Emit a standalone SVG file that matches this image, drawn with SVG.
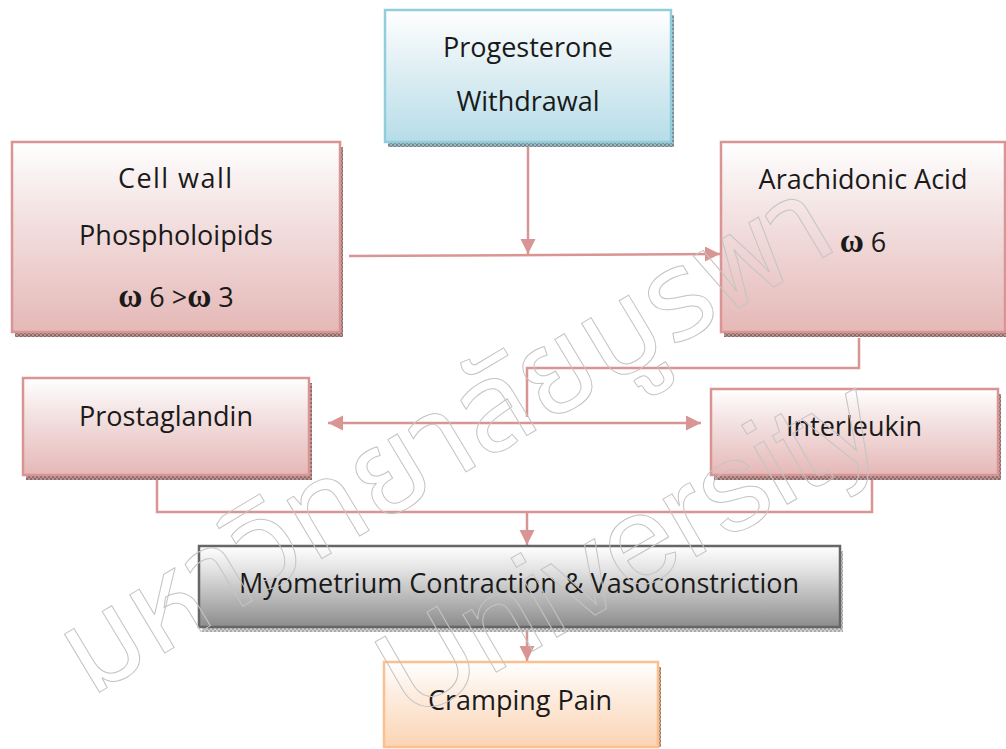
<svg xmlns="http://www.w3.org/2000/svg" width="1006" height="749" viewBox="0 0 1006 749">
  <style>
    .box { stroke-width: 2.5; }
    .pink { fill: url(#gPink); stroke: #d99594; }
    .blue { fill: url(#gBlue); stroke: #92cddc; }
    .gray { fill: url(#gGray); stroke: #666666; }
    .orange { fill: url(#gOrange); stroke: #fac08f; }
    .lbl { font-family: "Open Sans", "Liberation Sans", sans-serif; font-size: 27px; fill: #1a1a1a; text-anchor: middle; }
    .om { font-family: "Liberation Serif", serif; font-weight: bold; font-size: 33px; }
    .conn { fill: none; stroke: #d99594; stroke-width: 2.5; }
    .wm { fill: none; stroke: #c4c4c4; stroke-width: 1; }
  </style>
  <defs>
    <linearGradient id="gPink" x1="0" y1="0" x2="0" y2="1">
      <stop offset="0" stop-color="#ffffff"/>
      <stop offset="0.35" stop-color="#f4e4e4"/>
      <stop offset="1" stop-color="#e5b8b7"/>
    </linearGradient>
    <linearGradient id="gBlue" x1="0" y1="0" x2="0" y2="1">
      <stop offset="0" stop-color="#ffffff"/>
      <stop offset="0.35" stop-color="#e6f2f6"/>
      <stop offset="1" stop-color="#b6dde8"/>
    </linearGradient>
    <linearGradient id="gGray" x1="0" y1="0" x2="0" y2="1">
      <stop offset="0" stop-color="#ffffff"/>
      <stop offset="0.3" stop-color="#e2e2e2"/>
      <stop offset="1" stop-color="#8c8c8c"/>
    </linearGradient>
    <linearGradient id="gOrange" x1="0" y1="0" x2="0" y2="1">
      <stop offset="0" stop-color="#ffffff"/>
      <stop offset="0.35" stop-color="#fdeee2"/>
      <stop offset="1" stop-color="#fbd4b4"/>
    </linearGradient>
    <pattern id="hPink" width="4" height="4" patternUnits="userSpaceOnUse">
      <rect width="4" height="4" fill="#b89393"/>
      <rect width="2" height="2" fill="#8c6a6a"/>
      <rect x="2" y="2" width="2" height="2" fill="#8c6a6a"/>
    </pattern>
    <pattern id="hBlue" width="4" height="4" patternUnits="userSpaceOnUse">
      <rect width="4" height="4" fill="#9fb4bc"/>
      <rect width="2" height="2" fill="#6f8a94"/>
      <rect x="2" y="2" width="2" height="2" fill="#6f8a94"/>
    </pattern>
    <pattern id="hGray" width="4" height="4" patternUnits="userSpaceOnUse">
      <rect width="4" height="4" fill="#d2d2d2"/>
      <rect width="2" height="2" fill="#a8a8a8"/>
      <rect x="2" y="2" width="2" height="2" fill="#a8a8a8"/>
    </pattern>
    <pattern id="hOrange" width="4" height="4" patternUnits="userSpaceOnUse">
      <rect width="4" height="4" fill="#c9a88c"/>
      <rect width="2" height="2" fill="#9c7c62"/>
      <rect x="2" y="2" width="2" height="2" fill="#9c7c62"/>
    </pattern>
    <marker id="arr" markerUnits="userSpaceOnUse" markerWidth="16" markerHeight="16" refX="15" refY="7.5" orient="auto-start-reverse">
      <path d="M0,0 L15,7.5 L0,15 Z" fill="#d99594"/>
    </marker>
  </defs>

  <!-- connectors -->
  <g id="connectors">
    <line class="conn" x1="528" y1="147" x2="528" y2="254" marker-end="url(#arr)"/>
    <line class="conn" x1="349" y1="256" x2="720" y2="254" marker-end="url(#arr)"/>
    <polyline class="conn" points="859,338 859,368 527,368 527,417"/>
    <line class="conn" x1="328" y1="423" x2="701" y2="423" marker-start="url(#arr)" marker-end="url(#arr)"/>
    <polyline class="conn" points="157,480 157,512 872,512 872,480"/>
    <line class="conn" x1="527" y1="512" x2="527" y2="545" marker-end="url(#arr)"/>
    <line class="conn" x1="527" y1="631" x2="527" y2="661" marker-end="url(#arr)"/>
  </g>

  <!-- nodes -->
  <g id="progesterone">
    <rect x="388" y="15" width="286" height="132" fill="url(#hBlue)"/>
    <rect class="box blue" x="385" y="10" width="286" height="132"/>
    <text class="lbl" x="528" y="57">Progesterone</text>
    <text class="lbl" x="528" y="111">Withdrawal</text>
  </g>

  <g id="cellwall">
    <rect x="15" y="147" width="328" height="190" fill="url(#hPink)"/>
    <rect class="box pink" x="12" y="142" width="328" height="190"/>
    <text class="lbl" x="175" y="188" textLength="114" lengthAdjust="spacing">Cell wall</text>
    <text class="lbl" x="176" y="245">Phospholoipids</text>
    <text class="lbl" x="176" y="307"><tspan class="om">ω</tspan> 6 &gt;<tspan class="om">ω</tspan> 3</text>
  </g>

  <g id="arachidonic">
    <rect x="724" y="147" width="284" height="190" fill="url(#hPink)"/>
    <rect class="box pink" x="721" y="142" width="284" height="190"/>
    <text class="lbl" x="863" y="189" font-size="28">Arachidonic Acid</text>
    <text class="lbl" x="863" y="252"><tspan class="om">ω</tspan> 6</text>
  </g>

  <g id="prostaglandin">
    <rect x="26" y="383" width="286" height="97" fill="url(#hPink)"/>
    <rect class="box pink" x="23" y="378" width="286" height="97"/>
    <text class="lbl" x="166" y="426">Prostaglandin</text>
  </g>

  <g id="interleukin">
    <rect x="714" y="394" width="287" height="86" fill="url(#hPink)"/>
    <rect class="box pink" x="711" y="389" width="287" height="86"/>
    <text class="lbl" x="854" y="436">Interleukin</text>
  </g>

  <g id="myometrium">
    <rect x="202" y="551" width="641" height="81" fill="url(#hGray)"/>
    <rect class="box gray" x="199" y="546" width="641" height="81"/>
    <text class="lbl" x="519" y="593" font-size="28.5">Myometrium Contraction &amp; Vasoconstriction</text>
  </g>

  <g id="cramping">
    <rect x="387" y="667" width="274" height="80" fill="url(#hOrange)"/>
    <rect class="box orange" x="384" y="662" width="274" height="85"/>
    <text class="lbl" x="520" y="710">Cramping Pain</text>
  </g>

  <!-- watermark (drawn over the diagram, outline only) -->
  <g id="watermark">
    <text class="wm" x="90" y="698" transform="rotate(-31 90 698)" font-family="'Noto Sans Thai', 'Noto Sans', 'DejaVu Sans', sans-serif" font-size="124">มหาวิทยาลัยบูรพา</text>
    <text class="wm" x="410" y="722" transform="rotate(-30 410 722)" font-family="'Liberation Sans', sans-serif" font-size="126">University</text>
  </g>
</svg>
